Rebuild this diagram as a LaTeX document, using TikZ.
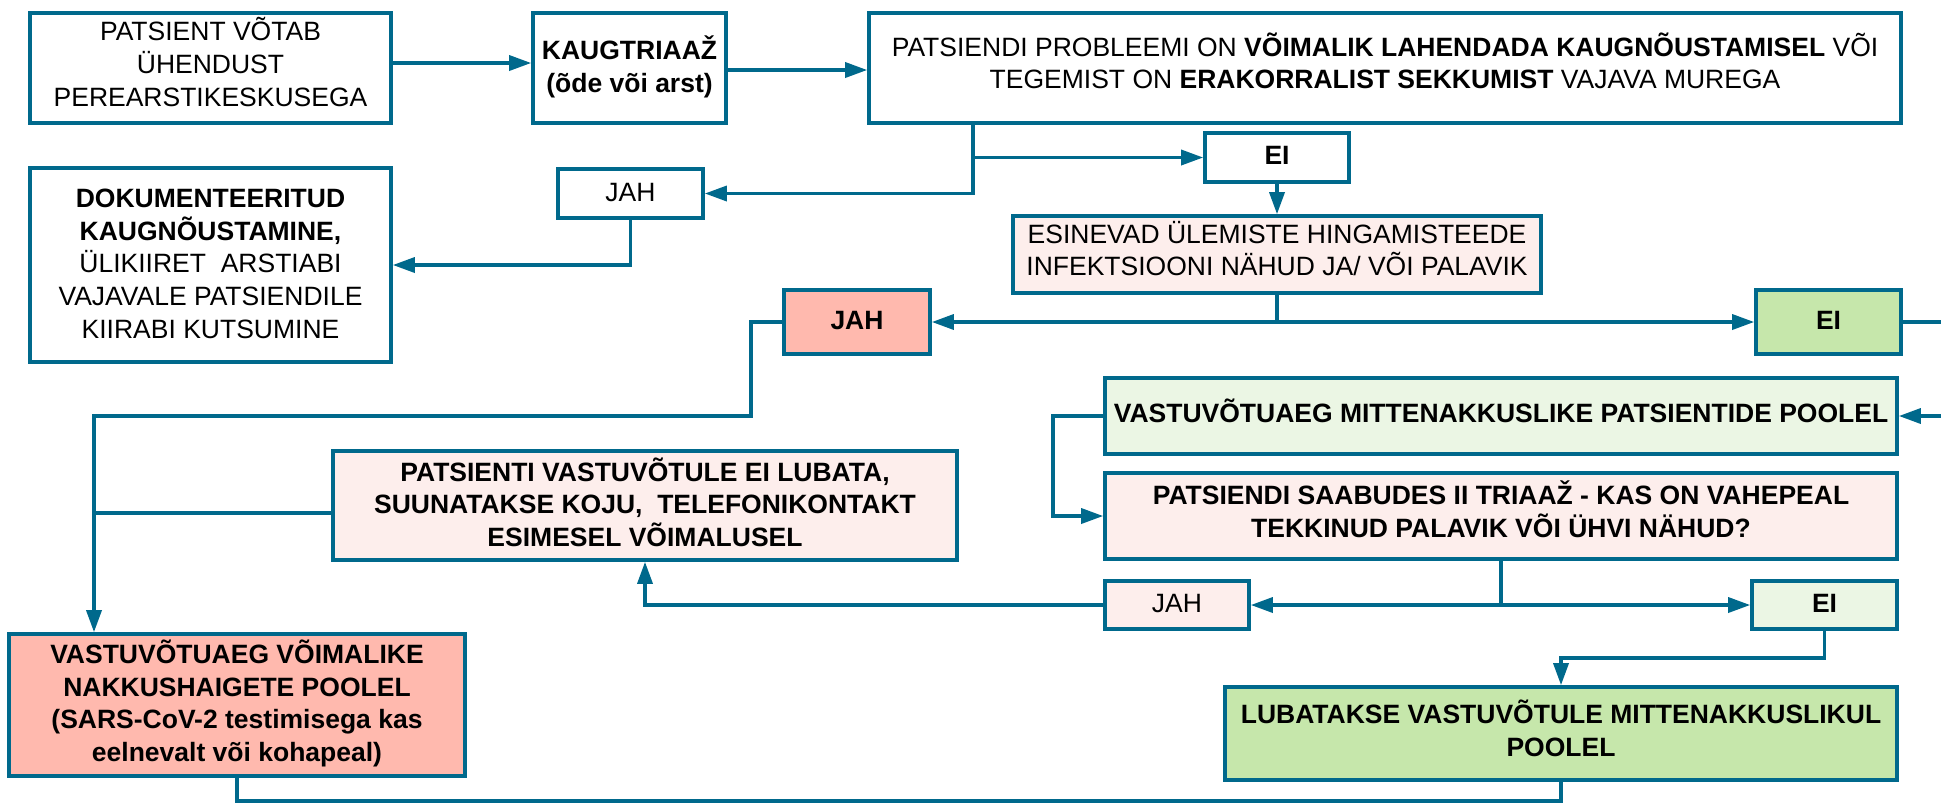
\documentclass[tikz,border=0pt]{standalone}
\usepackage{fontspec}
\setmainfont{Liberation Sans}
\usetikzlibrary{arrows.meta}
\definecolor{lc}{RGB}{0,105,140}
\definecolor{salmon}{RGB}{255,185,174}
\definecolor{lpink}{RGB}{253,238,236}
\definecolor{green}{RGB}{198,231,171}
\definecolor{lgreen}{RGB}{235,246,228}
\tikzset{
  box/.style={draw=lc, line width=1.8pt, fill=white, inner sep=0pt},
  txt/.style={inner sep=0pt, align=center, font=\fontsize{13.25}{16.3}\selectfont},
  btxt/.style={txt, font=\fontsize{13.25}{16.3}\selectfont\bfseries},
  arr/.style={draw=lc, line width=1.7pt, -{Triangle[length=11pt,width=7.5pt]}},
  ln/.style={draw=lc, line width=1.7pt},
}
\begin{document}
\begin{tikzpicture}[x=0.5pt,y=-0.5pt]
\useasboundingbox (0,0) rectangle (1941,805);
\clip (0,0) rectangle (1941,805);
% boxes
\node[box, minimum width=180.5pt, minimum height=55pt] (A) at (210.5,68) {};
\node[box, minimum width=96.5pt, minimum height=55pt] (B) at (629.5,68) {};
\node[box, minimum width=516pt, minimum height=55pt] (C) at (1385,68) {};
\node[box, minimum width=72pt, minimum height=24.5pt] (EI1) at (1277,157.5) {};
\node[box, minimum width=72.5pt, minimum height=24.5pt] (JAH1) at (630.5,193.5) {};
\node[box, minimum width=180.5pt, minimum height=97pt] (DOK) at (210.5,265) {};
\node[box, fill=lpink, minimum width=264pt, minimum height=38.5pt] (ESIN) at (1277,254.5) {};
\node[box, fill=salmon, minimum width=73pt, minimum height=32pt] (JAH2) at (857,322) {};
\node[box, fill=green, minimum width=72.5pt, minimum height=32pt] (EI2) at (1828.5,322) {};
\node[box, fill=lgreen, minimum width=396pt, minimum height=38pt] (VMP) at (1501,416) {};
\node[box, fill=lpink, minimum width=396pt, minimum height=43pt] (PSA) at (1501,516) {};
\node[box, fill=lpink, minimum width=72pt, minimum height=24pt] (JAH3) at (1177,605) {};
\node[box, fill=lgreen, minimum width=72.5pt, minimum height=24pt] (EI3) at (1824.5,605) {};
\node[box, fill=green, minimum width=336pt, minimum height=46.5pt] (LUB) at (1561,733.5) {};
\node[box, fill=lpink, minimum width=312pt, minimum height=54.5pt] (PVE) at (645,505.5) {};
\node[box, fill=salmon, minimum width=228pt, minimum height=71pt] (VVN) at (237,705) {};
% texts
\node[txt] (At) at ([yshift=3pt]A.center) {PATSIENT VÕTAB\\ÜHENDUST\\PEREARSTIKESKUSEGA};
\node[btxt] (Bt) at ([yshift=0.6pt]B.center) {KAUGTRIAAŽ\\(õde või arst)};
\node[txt] (Ct) at ([yshift=3.5pt]C.center)
  {PATSIENDI PROBLEEMI ON \textbf{VÕIMALIK LAHENDADA KAUGNÕUSTAMISEL} VÕI\\TEGEMIST ON \textbf{ERAKORRALIST SEKKUMIST} VAJAVA MUREGA};
\node[btxt] (EI1t) at ([yshift=1.2pt]EI1.center) {EI};
\node[txt] (JAH1t) at ([yshift=0.6pt]JAH1.center) {JAH};
\node[txt] (DOKt) at ([yshift=0.6pt]DOK.center)
  {\textbf{DOKUMENTEERITUD}\\\textbf{KAUGNÕUSTAMINE,}\\ÜLIKIIRET\ \ ARSTIABI\\VAJAVALE PATSIENDILE\\KIIRABI KUTSUMINE};
\node[txt] (ESINt) at ([yshift=3pt]ESIN.center) {ESINEVAD ÜLEMISTE HINGAMISTEEDE\\INFEKTSIOONI NÄHUD JA/ VÕI PALAVIK};
\node[btxt] (JAH2t) at ([yshift=0.6pt]JAH2.center) {JAH};
\node[btxt] (EI2t) at ([yshift=0.6pt]EI2.center) {EI};
\node[btxt] (VMPt) at ([yshift=2.5pt]VMP.center) {VASTUVÕTUAEG MITTENAKKUSLIKE PATSIENTIDE POOLEL};
\node[btxt] (PSAt) at ([yshift=3.5pt]PSA.center) {PATSIENDI SAABUDES II TRIAAŽ - KAS ON VAHEPEAL\\TEKKINUD PALAVIK VÕI ÜHVI NÄHUD?};
\node[txt] (JAH3t) at ([yshift=0.6pt]JAH3.center) {JAH};
\node[btxt] (EI3t) at ([yshift=0.6pt]EI3.center) {EI};
\node[btxt] (LUBt) at ([yshift=2.5pt]LUB.center) {LUBATAKSE VASTUVÕTULE MITTENAKKUSLIKUL\\POOLEL};
\node[btxt] (PVEt) at ([yshift=1.75pt]PVE.center) {PATSIENTI VASTUVÕTULE EI LUBATA,\\SUUNATAKSE KOJU,\ \ TELEFONIKONTAKT\\ESIMESEL VÕIMALUSEL};
\node[btxt] (VVNt) at ([yshift=0.75pt]VVN.center) {VASTUVÕTUAEG VÕIMALIKE\\NAKKUSHAIGETE POOLEL\\(SARS-CoV-2 testimisega kas\\eelnevalt või kohapeal)};
% helper coordinates
\coordinate (c1) at (973,157.5);
\coordinate (o1) at (1990,370);
\coordinate (k1) at (1053,466);
\coordinate (j2) at (751,416);
% connectors
\draw[arr] (A.east |- 0,63) -- (B.west |- 0,63);
\draw[arr] (B.east |- 0,70) -- (C.west |- 0,70);
\draw[arr] (C.south -| c1) |- (JAH1.east);
\draw[arr] (c1) -- (EI1.west);
\draw[arr] (JAH1.south) |- (DOK.east);
\draw[arr] (EI1.south) -- (ESIN.north);
\draw[arr] (ESIN.south) |- (JAH2.east);
\draw[arr] (ESIN.south) |- (EI2.west);
\draw[arr] (EI2.east) -| (o1) |- (VMP.east);
\draw[arr] (VMP.west) -| (k1) |- (PSA.west);
\draw[arr] (PSA.south) |- (JAH3.east);
\draw[arr] (PSA.south) |- (EI3.west);
\draw[arr] (JAH3.west) -| (PVE.south);
\draw[arr] (EI3.south) -- (EI3.south |- 0,658) -| (LUB.north);
\draw[arr] (JAH2.west) -| (j2) -| (VVN.north -| 94,0);
\draw[ln] (PVE.west |- 0,513) -- (94,513);
\draw[ln] (VVN.south) |- (LUB.south |- 0,801) -- (LUB.south);
\end{tikzpicture}
\end{document}
